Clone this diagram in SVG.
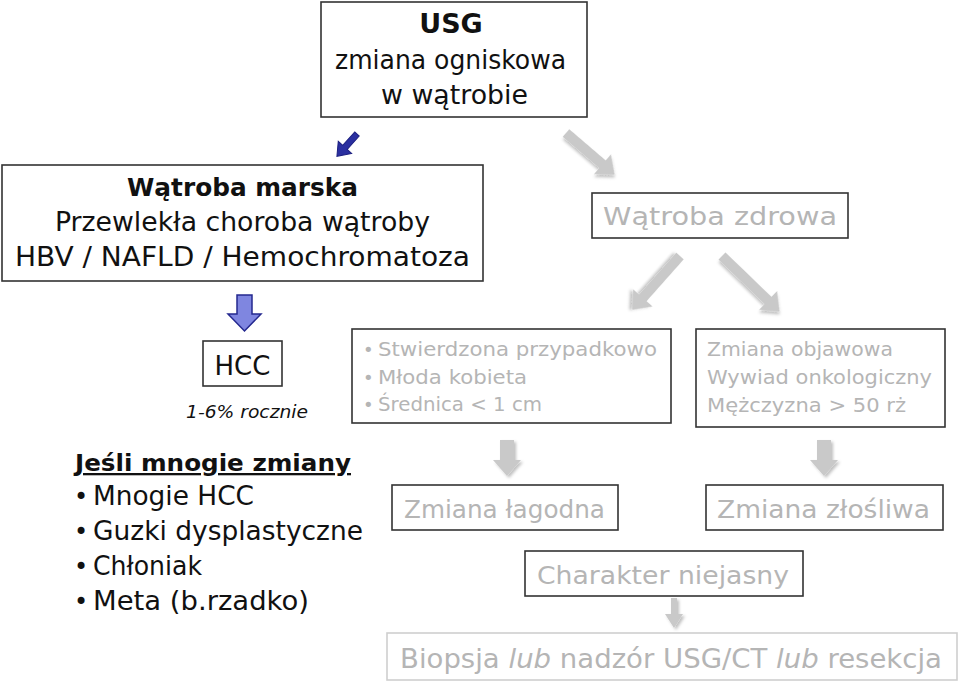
<svg xmlns="http://www.w3.org/2000/svg" width="960" height="682" viewBox="0 0 960 682">
<style>
  .t{font-family:"DejaVu Sans","Open Sans",sans-serif;}
  .blk{fill:#111;}
  .gry{fill:#b5b5b5;}
  .box{fill:#fff;stroke:#333;stroke-width:1.6;}
  .lbox{fill:#fff;stroke:#cfcfcf;stroke-width:1.6;}
  .garr{fill:#c9c9c9;filter:url(#sh);}
  .barr{fill:#7f86e0;stroke:#24288f;stroke-width:1.5;}
</style>
<defs>
  <filter id="sh" x="-30%" y="-30%" width="160%" height="160%">
    <feDropShadow dx="2" dy="2" stdDeviation="1.5" flood-color="#000" flood-opacity="0.25"/>
  </filter>
</defs>
<rect width="960" height="682" fill="#fff"/>

<g id="connectors">
  <g transform="translate(357,134) rotate(132)"><path d="M0,-3 L18,-3 L18,-9 L30,0 L18,9 L18,3 L0,3 Z" fill="#2a2fa0" stroke="#1c1f80" stroke-width="1"/></g>
  <g transform="translate(566,133) rotate(40.6)"><path class="garr" d="M0,-5 L48,-5 L48,-13 L64,0 L48,13 L48,5 L0,5 Z"/></g>
  <g transform="translate(680,256) rotate(131.6)"><path class="garr" d="M0,-5 L56,-5 L56,-13 L72,0 L56,13 L56,5 L0,5 Z"/></g>
  <g transform="translate(722,256) rotate(44)"><path class="garr" d="M0,-5 L64,-5 L64,-13 L80,0 L64,13 L64,5 L0,5 Z"/></g>
  <path class="barr" d="M237,295 L252,295 L252,314 L261,314 L244.5,331 L228,314 L237,314 Z"/>
  <path class="garr" d="M500,440 L514,440 L514,460 L521,460 L507,476 L493,460 L500,460 Z"/>
  <path class="garr" d="M817,440 L831,440 L831,460 L838,460 L824,476 L810,460 L817,460 Z"/>
  <path class="garr" d="M671,598 L677,598 L677,614 L683,614 L674,628 L665,614 L671,614 Z"/>
</g>

<g id="usg">
  <rect class="box" x="321" y="2" width="266" height="115"/>
  <text class="t blk" x="451" y="33" font-size="27" font-weight="bold" text-anchor="middle">USG</text>
  <text class="t blk" x="450.5" y="69" font-size="26" text-anchor="middle" textLength="231" lengthAdjust="spacingAndGlyphs">zmiana ogniskowa</text>
  <text class="t blk" x="454.5" y="104" font-size="26" text-anchor="middle" textLength="147" lengthAdjust="spacingAndGlyphs">w wątrobie</text>
</g>

<g id="marska">
  <rect class="box" x="2" y="165" width="481" height="116"/>
  <text class="t blk" x="242.5" y="196" font-size="25" font-weight="bold" text-anchor="middle" textLength="231" lengthAdjust="spacingAndGlyphs">Wątroba marska</text>
  <text class="t blk" x="242.5" y="231" font-size="26" text-anchor="middle" textLength="375" lengthAdjust="spacingAndGlyphs">Przewlekła choroba wątroby</text>
  <text class="t blk" x="242.5" y="266" font-size="26" text-anchor="middle" textLength="455" lengthAdjust="spacingAndGlyphs">HBV / NAFLD / Hemochromatoza</text>
</g>

<g id="zdrowa">
  <rect class="box" x="592" y="193" width="256" height="45"/>
  <text class="t gry" x="720" y="225" font-size="25" text-anchor="middle" textLength="234" lengthAdjust="spacingAndGlyphs">Wątroba zdrowa</text>
</g>

<g id="hcc">
  <rect class="box" x="203" y="341" width="79" height="45"/>
  <text class="t blk" x="242.5" y="375" font-size="26" text-anchor="middle">HCC</text>
  <text class="t blk" x="247" y="418" font-size="18" font-style="italic" text-anchor="middle" textLength="122" lengthAdjust="spacingAndGlyphs">1-6% rocznie</text>
</g>

<g id="przypadkowo">
  <rect class="box" x="352" y="329" width="319" height="94"/>
  <text class="t gry" x="363" y="356" font-size="18">•</text>
  <text class="t gry" x="363" y="384" font-size="18">•</text>
  <text class="t gry" x="363" y="411" font-size="18">•</text>
  <text class="t gry" x="378" y="356" font-size="20" textLength="279" lengthAdjust="spacingAndGlyphs">Stwierdzona przypadkowo</text>
  <text class="t gry" x="378" y="384" font-size="20" textLength="149" lengthAdjust="spacingAndGlyphs">Młoda kobieta</text>
  <text class="t gry" x="378" y="411" font-size="20" textLength="164" lengthAdjust="spacingAndGlyphs">Średnica &lt; 1 cm</text>
</g>

<g id="objawowa">
  <rect class="box" x="696" y="329" width="249" height="98"/>
  <text class="t gry" x="707" y="356" font-size="20" textLength="186" lengthAdjust="spacingAndGlyphs">Zmiana objawowa</text>
  <text class="t gry" x="707" y="384" font-size="20" textLength="225" lengthAdjust="spacingAndGlyphs">Wywiad onkologiczny</text>
  <text class="t gry" x="707" y="412" font-size="20" textLength="199" lengthAdjust="spacingAndGlyphs">Mężczyzna &gt; 50 rż</text>
</g>

<g id="mnogie">
  <text class="t blk" x="75" y="471" font-size="23" font-weight="bold" text-decoration="underline" textLength="276" lengthAdjust="spacingAndGlyphs">Jeśli mnogie zmiany</text>
  <text class="t blk" x="74" y="505" font-size="24">•</text>
  <text class="t blk" x="74" y="540" font-size="24">•</text>
  <text class="t blk" x="74" y="575" font-size="24">•</text>
  <text class="t blk" x="74" y="610" font-size="24">•</text>
  <text class="t blk" x="93" y="505" font-size="26" textLength="161" lengthAdjust="spacingAndGlyphs">Mnogie HCC</text>
  <text class="t blk" x="93" y="540" font-size="26" textLength="270" lengthAdjust="spacingAndGlyphs">Guzki dysplastyczne</text>
  <text class="t blk" x="93" y="575" font-size="26" textLength="109" lengthAdjust="spacingAndGlyphs">Chłoniak</text>
  <text class="t blk" x="93" y="610" font-size="26" textLength="216" lengthAdjust="spacingAndGlyphs">Meta (b.rzadko)</text>
</g>

<g id="lagodna">
  <rect class="box" x="392" y="485" width="226" height="45"/>
  <text class="t gry" x="504.5" y="518" font-size="25" text-anchor="middle" textLength="201" lengthAdjust="spacingAndGlyphs">Zmiana łagodna</text>
</g>

<g id="zlosliwa">
  <rect class="box" x="706" y="485" width="237" height="45"/>
  <text class="t gry" x="823.5" y="518" font-size="25" text-anchor="middle" textLength="213" lengthAdjust="spacingAndGlyphs">Zmiana  złośliwa</text>
</g>

<g id="niejasny">
  <rect class="box" x="525" y="551" width="278" height="45"/>
  <text class="t gry" x="663" y="584" font-size="25" text-anchor="middle" textLength="252" lengthAdjust="spacingAndGlyphs">Charakter niejasny</text>
</g>

<g id="biopsja">
  <rect class="lbox" x="387" y="633" width="570" height="47"/>
  <text class="t gry" x="671" y="668" font-size="26" text-anchor="middle" textLength="542" lengthAdjust="spacingAndGlyphs">Biopsja <tspan font-style="italic">lub</tspan> nadzór USG/CT <tspan font-style="italic">lub</tspan> resekcja</text>
</g>
</svg>
